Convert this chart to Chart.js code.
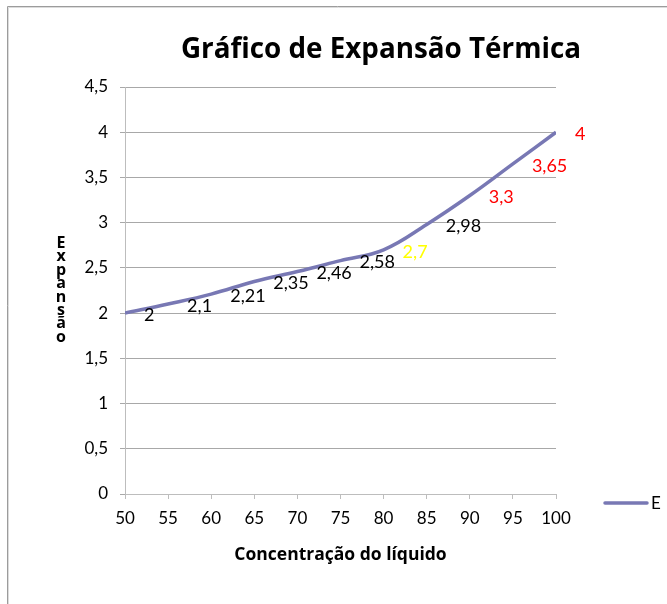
<!DOCTYPE html>
<html>
<head>
<meta charset="utf-8">
<script src="https://cdn.jsdelivr.net/npm/chart.js@4/dist/chart.umd.min.js"></script>
<style>
html,body{margin:0;padding:0;background:#fff;}
#wrap{position:relative;width:667px;height:604px;}
</style>
</head>
<body>
<div id="wrap"><canvas id="c" width="667" height="604"></canvas></div>
<script>
// ---- data ----
const chartTitle = 'Gráfico de Expansão Térmica';
const xTitle = 'Concentração do líquido';
const yTitle = 'Expansão';
const seriesName = 'E';
const concentracao = [50, 55, 60, 65, 70, 75, 80, 85, 90, 95, 100];
const expansao = [2, 2.1, 2.21, 2.35, 2.46, 2.58, 2.7, 2.98, 3.3, 3.65, 4];
const yTickMin = 0, yTickMax = 4.5, yTickStep = 0.5;
const xTickMin = 50, xTickMax = 100, xTickStep = 5;

// ---- styles ----
const FONT = 'Lato, "Open Sans", sans-serif';
const BFONT = '"Open Sans", Lato, sans-serif';
const lineColor = '#7878b4';
const gridColor = '#a8a8a8';
const axisColor = '#bdbdbd';
const labelColors = ['#000','#000','#000','#000','#000','#000','#ffff00','#000','#ff0000','#ff0000','#ff0000'];
const fmt = v => String(v).replace('.', ',');

const decor = {
  id: 'decor',
  beforeDraw(chart) {
    const ctx = chart.ctx;
    ctx.save();
    ctx.strokeStyle = '#9c9c9c';
    ctx.lineWidth = 1;
    ctx.beginPath();
    ctx.moveTo(7.5, 700); ctx.lineTo(7.5, 6.5); ctx.lineTo(700, 6.5);
    ctx.stroke();
    ctx.strokeStyle = '#dcdcdc';
    ctx.beginPath();
    ctx.moveTo(8.5, 700); ctx.lineTo(8.5, 7.5); ctx.lineTo(700, 7.5);
    ctx.stroke();
    ctx.restore();
  },
  afterDraw(chart) {
    const ctx = chart.ctx;
    const area = chart.chartArea;
    ctx.save();
    // title
    ctx.fillStyle = '#000';
    ctx.font = 'bold 27.8px ' + BFONT;
    ctx.textAlign = 'center';
    ctx.textBaseline = 'alphabetic';
    ctx.fillText(chartTitle, 381, 58);
    // x title
    ctx.font = 'bold 17.5px ' + BFONT;
    ctx.fillText(xTitle, (area.left + area.right) / 2, 560);
    // y title stacked
    ctx.font = 'bold 16px ' + BFONT;
    const letters = Array.from(yTitle);
    letters.forEach((ch, i) => ctx.fillText(ch, 61, 248 + i * 13.4));
    // data labels
    const meta = chart.getDatasetMeta(0);
    ctx.font = '18px ' + FONT;
    ctx.textAlign = 'left';
    ctx.textBaseline = 'middle';
    meta.data.forEach((pt, i) => {
      ctx.fillStyle = labelColors[i];
      ctx.fillText(fmt(expansao[i]), pt.x + 19, pt.y + 2);
    });
    // legend
    ctx.strokeStyle = lineColor;
    ctx.lineWidth = 3.5;
    ctx.lineCap = 'round';
    ctx.beginPath();
    ctx.moveTo(605, 503); ctx.lineTo(647, 503);
    ctx.stroke();
    ctx.fillStyle = '#000';
    ctx.font = '17px ' + FONT;
    ctx.fillText(seriesName, 651, 504);
    ctx.restore();
  }
};

new Chart(document.getElementById('c'), {
  type: 'line',
  data: {
    datasets: [{
      label: seriesName,
      data: concentracao.map((x, i) => ({x: x, y: expansao[i]})),
      borderColor: lineColor,
      borderWidth: 3.5,
      pointRadius: 0,
      tension: 0.4,
      fill: false
    }]
  },
  options: {
    responsive: false,
    animation: false,
    events: [],
    layout: {padding: {left: 0, top: 87, right: 111, bottom: 0}},
    plugins: {legend: {display: false}, title: {display: false}, tooltip: {enabled: false}},
    scales: {
      x: {
        type: 'linear', min: xTickMin, max: xTickMax,
        afterFit: s => { s.height = 110; },
        ticks: {stepSize: xTickStep, color: '#000', font: {family: FONT, size: 17}, padding: 9, maxRotation: 0},
        grid: {drawOnChartArea: false, drawTicks: true, tickLength: 5, color: axisColor},
        border: {color: axisColor, width: 1}
      },
      y: {
        min: yTickMin, max: yTickMax,
        afterFit: s => { s.width = 125; },
        ticks: {stepSize: yTickStep, color: '#000', font: {family: FONT, size: 17}, padding: 12, callback: v => fmt(v)},
        grid: {color: gridColor, tickLength: 5, drawTicks: true},
        border: {color: axisColor, width: 1}
      }
    }
  },
  plugins: [decor]
});
</script>
</body>
</html>
